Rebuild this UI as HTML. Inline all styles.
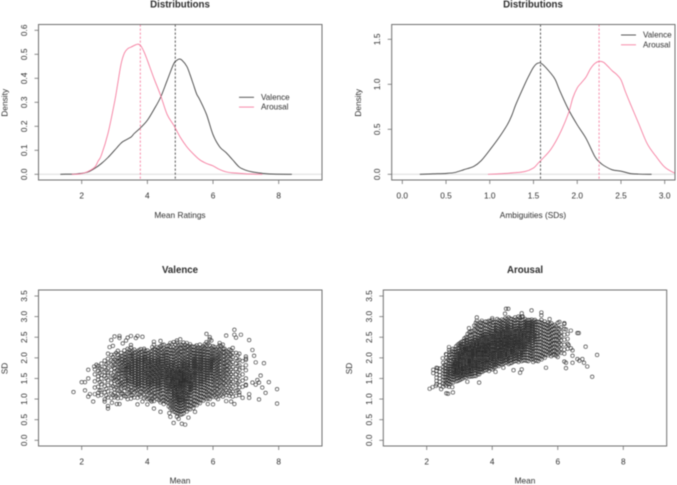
<!DOCTYPE html>
<html lang="en">
<head>
<meta charset="utf-8">
<title>Distributions and mean-SD scatter plots</title>
<style>
html,body{margin:0;padding:0;background:#fff;width:677px;height:485px;overflow:hidden}
svg{display:block;filter:blur(0.4px)}
text{font-family:"Liberation Sans",Arial,sans-serif;fill:#2e2e2e}
</style>
</head>
<body>
<svg id="figure" xmlns="http://www.w3.org/2000/svg" width="677" height="485" viewBox="0 0 677 485"></svg>
<script>
/* ---------- density panel data ---------- */
const ratingX_valence = [1.35,1.6,1.8,2.0,2.2,2.4,2.6,2.8,3.0,3.2,3.3,3.5,3.6,3.8,4.0,4.2,4.4,4.6,4.8,4.9,4.97,5.05,5.2,5.3,5.4,5.5,5.6,5.8,6.0,6.2,6.4,6.6,6.8,7.0,7.2,7.5,7.8,8.4];
const ratingY_valence = [0,0.0005,0.001,0.004,0.01,0.025,0.045,0.07,0.1,0.13,0.14,0.155,0.17,0.195,0.225,0.27,0.32,0.39,0.46,0.475,0.48,0.476,0.45,0.415,0.375,0.335,0.31,0.25,0.165,0.115,0.09,0.06,0.03,0.017,0.01,0.004,0.001,0];
const ratingX_arousal = [1.7,1.9,2.0,2.2,2.4,2.5,2.6,2.8,3.0,3.1,3.2,3.3,3.4,3.5,3.7,3.8,3.9,4.0,4.2,4.4,4.6,4.8,5.0,5.2,5.4,5.6,5.8,6.0,6.2,6.4,6.6,7.0,7.5];
const ratingY_arousal = [0,0.001,0.003,0.012,0.03,0.055,0.08,0.17,0.3,0.38,0.46,0.505,0.523,0.53,0.542,0.535,0.51,0.475,0.4,0.33,0.25,0.205,0.155,0.115,0.085,0.06,0.045,0.035,0.02,0.01,0.006,0.002,0];
const ambigX_valence = [0.2,0.35,0.5,0.6,0.7,0.82,0.9,1.0,1.1,1.2,1.25,1.3,1.4,1.45,1.5,1.55,1.6,1.7,1.75,1.8,1.9,2.0,2.1,2.2,2.25,2.3,2.4,2.5,2.6,2.7,2.85];
const ambigY_valence = [0,0.005,0.01,0.02,0.05,0.09,0.15,0.27,0.4,0.55,0.65,0.78,1.0,1.1,1.19,1.235,1.225,1.12,1.05,0.93,0.72,0.55,0.4,0.2,0.14,0.1,0.05,0.035,0.01,0.002,0];
const ambigX_arousal = [0.98,1.1,1.25,1.4,1.5,1.55,1.6,1.7,1.8,1.9,1.95,2.0,2.05,2.1,2.15,2.2,2.25,2.3,2.35,2.4,2.45,2.5,2.55,2.6,2.7,2.8,2.9,3.0,3.1,3.15];
const ambigY_arousal = [0,0.005,0.015,0.03,0.07,0.12,0.17,0.28,0.45,0.68,0.85,0.96,1.02,1.08,1.17,1.23,1.255,1.245,1.2,1.15,1.11,1.05,0.92,0.8,0.57,0.34,0.2,0.08,0.02,0.007];
const ratingMeans = [4.85,3.785];
const ambigMeans = [1.58,2.25];

/* ---------- tick labels ---------- */
const meanTicks = [2,4,6,8];
const ratingDensityTicks = ["0.0","0.1","0.2","0.3","0.4","0.5","0.6"];
const ambigTicks = ["0.0","0.5","1.0","1.5","2.0","2.5","3.0"];
const ambigDensityTicks = ["0.0","0.5","1.0","1.5"];
const sdTicks = ["0.0","0.5","1.0","1.5","2.0","2.5","3.0","3.5"];
const legendLabels = ["Valence","Arousal"];

/* ---------- valence scatter: isolated points ---------- */
const valenceEdgeMean = [1.75,2.0,2.1,2.1,2.2,2.2,2.2,2.25,2.35,2.38,2.45,2.8,2.85,2.9,2.95,3.0,3.15,3.15,3.25,3.35,3.4,3.5,3.65,3.7,3.85,3.5,2.8,2.8,2.92,3.07,3.15,2.7,3.7,3.85,4.0,4.13,4.2,4.4,4.67,4.7,4.8,4.9,4.95,5.05,5.15,5.25,5.45,5.84,6.0,6.15,6.4,6.55,6.65,5.8,5.9,5.95,6.4,6.65,6.65,6.7,6.85,7.1,7.2,7.25,7.3,7.55,7.0,7.0,7.7,7.45,7.35,7.4,7.5,7.6,7.4,7.95,7.95,7.3,7.2,7.1,7.1,6.9,6.8,6.7,7.0];
const valenceEdgeSD = [1.17,1.41,1.41,1.21,1.71,1.5,1.06,1.12,0.94,1.79,1.83,2.1,2.26,2.43,2.29,2.52,2.53,2.48,2.35,2.42,2.49,2.53,2.48,2.53,2.51,2.31,0.83,0.77,0.91,0.88,0.88,0.94,0.87,0.94,0.87,0.94,0.77,0.69,0.66,0.57,0.42,0.57,0.52,0.4,0.38,0.55,0.69,0.88,0.87,1.0,0.95,0.94,0.88,2.58,2.5,2.42,2.54,2.68,2.56,2.49,2.56,2.43,2.19,2.05,1.89,1.87,2.03,1.98,1.41,1.57,1.46,1.4,1.28,1.15,0.99,1.24,0.89,1.35,1.4,1.12,1.03,1.03,1.16,1.08,1.35];

/* ---------- valence scatter: dense body, one SD list per mean rating ---------- */
const valenceCoreMean = [2.4,2.5,2.6,2.7,2.8,2.9,3.0,3.1,3.2,3.3,3.4,3.5,3.6,3.7,3.8,3.9,4.0,4.1,4.2,4.3,4.4,4.5,4.6,4.7,4.8,4.9,5.0,5.1,5.2,5.3,5.4,5.5,5.6,5.7,5.8,5.9,6.0,6.1,6.2,6.3,6.4,6.5,6.6,6.7,6.8,6.9,7.0];
const valenceCoreSD = [
[1.12,1.28,1.43,1.6,1.72],
[1.08,1.15,1.3,1.47,1.55,1.68,1.8],
[1.1,1.22,1.36,1.5,1.59,1.72,1.86],
[0.99,1.16,1.31,1.42,1.56,1.66,1.78,1.93],
[1.04,1.19,1.34,1.46,1.58,1.63,1.74,1.87,1.98],
[1.02,1.13,1.27,1.39,1.5,1.62,1.71,1.83,1.94,2.07],
[1.04,1.15,1.24,1.36,1.44,1.53,1.66,1.75,1.84,1.96,2.08],
[1.02,1.12,1.22,1.33,1.41,1.52,1.6,1.71,1.79,1.9,1.99,2.07,2.17],
[1.03,1.14,1.25,1.3,1.38,1.47,1.56,1.64,1.72,1.8,1.88,1.97,2.05,2.12],
[1.08,1.19,1.28,1.36,1.43,1.5,1.58,1.65,1.72,1.79,1.86,1.93,2.0,2.08,2.18],
[1.0,1.12,1.24,1.32,1.39,1.46,1.52,1.59,1.65,1.72,1.78,1.84,1.91,1.98,2.06,2.14,2.22],
[1.01,1.1,1.2,1.29,1.35,1.42,1.48,1.55,1.61,1.67,1.73,1.79,1.85,1.92,1.99,2.05,2.14,2.25],
[1.04,1.16,1.26,1.33,1.39,1.45,1.51,1.57,1.63,1.69,1.75,1.81,1.87,1.93,1.99,2.06,2.12,2.2],
[1.03,1.13,1.22,1.3,1.36,1.42,1.48,1.54,1.6,1.66,1.72,1.78,1.84,1.9,1.96,2.02,2.09,2.16],
[1.06,1.18,1.27,1.34,1.4,1.46,1.52,1.58,1.64,1.7,1.76,1.82,1.88,1.94,2.0,2.07,2.14,2.21],
[1.02,1.12,1.22,1.31,1.38,1.44,1.5,1.56,1.62,1.67,1.73,1.79,1.85,1.91,1.97,2.03,2.1,2.18,2.22],
[1.0,1.1,1.2,1.28,1.35,1.41,1.47,1.53,1.58,1.64,1.7,1.75,1.81,1.87,1.92,1.98,2.04,2.11,2.18],
[0.97,1.08,1.18,1.26,1.33,1.39,1.45,1.5,1.56,1.61,1.67,1.72,1.78,1.83,1.89,1.95,2.01,2.08,2.15],
[0.95,1.05,1.15,1.23,1.3,1.37,1.43,1.49,1.54,1.6,1.65,1.71,1.76,1.82,1.87,1.93,1.99,2.06,2.13,2.21,2.32,2.39],
[1.0,1.1,1.18,1.26,1.33,1.39,1.45,1.51,1.56,1.62,1.67,1.73,1.78,1.84,1.9,1.96,2.03,2.1,2.17,2.26],
[0.92,1.02,1.12,1.2,1.27,1.34,1.4,1.46,1.52,1.57,1.63,1.68,1.74,1.79,1.85,1.91,1.97,2.04,2.11,2.19,2.28,2.41],
[0.88,0.97,1.06,1.14,1.22,1.29,1.35,1.41,1.47,1.52,1.58,1.63,1.69,1.74,1.8,1.85,1.91,1.97,2.03,2.09,2.16,2.24,2.32],
[0.92,1.0,1.09,1.17,1.24,1.31,1.37,1.43,1.49,1.54,1.6,1.65,1.71,1.76,1.82,1.88,1.94,2.0,2.07,2.14,2.22,2.28],
[0.78,0.86,0.94,1.02,1.1,1.17,1.24,1.3,1.36,1.42,1.47,1.52,1.57,1.62,1.67,1.72,1.78,1.84,1.9,1.96,2.03,2.1,2.18,2.26,2.36],
[0.7,0.78,0.86,0.93,1.0,1.07,1.13,1.19,1.25,1.31,1.36,1.41,1.46,1.5,1.54,1.59,1.64,1.69,1.75,1.81,1.87,1.94,2.01,2.09,2.17,2.26,2.38],
[0.66,0.73,0.8,0.87,0.94,1.0,1.06,1.12,1.18,1.24,1.29,1.34,1.38,1.42,1.46,1.5,1.54,1.58,1.62,1.67,1.72,1.78,1.85,1.92,1.99,2.07,2.16,2.25,2.37,2.42],
[0.62,0.7,0.76,0.83,0.89,0.95,1.0,1.06,1.11,1.17,1.22,1.27,1.31,1.36,1.4,1.44,1.48,1.52,1.56,1.6,1.64,1.69,1.74,1.8,1.86,1.93,2.0,2.08,2.15,2.24,2.33,2.45],
[0.65,0.72,0.79,0.86,0.93,0.99,1.05,1.11,1.17,1.23,1.28,1.33,1.37,1.41,1.45,1.49,1.53,1.57,1.61,1.65,1.7,1.75,1.81,1.87,1.94,2.01,2.09,2.17,2.26,2.37],
[0.7,0.78,0.86,0.93,1.0,1.07,1.13,1.19,1.25,1.31,1.36,1.41,1.46,1.5,1.55,1.6,1.65,1.7,1.76,1.82,1.88,1.95,2.02,2.1,2.18,2.27,2.36],
[0.75,0.84,0.92,1.0,1.08,1.15,1.21,1.27,1.33,1.38,1.44,1.49,1.54,1.59,1.64,1.7,1.75,1.81,1.87,1.94,2.01,2.08,2.16,2.24,2.33],
[0.78,0.88,0.97,1.05,1.13,1.2,1.27,1.33,1.39,1.45,1.5,1.56,1.61,1.67,1.72,1.78,1.84,1.9,1.96,2.03,2.1,2.18,2.26],
[0.85,0.94,1.03,1.11,1.19,1.26,1.32,1.38,1.44,1.5,1.56,1.61,1.67,1.72,1.78,1.84,1.9,1.96,2.02,2.09,2.16,2.23,2.3],
[0.9,0.99,1.07,1.15,1.22,1.29,1.36,1.42,1.48,1.54,1.6,1.66,1.71,1.77,1.83,1.89,1.95,2.01,2.08,2.15,2.22,2.32],
[0.96,1.05,1.13,1.21,1.28,1.35,1.41,1.47,1.53,1.59,1.65,1.7,1.76,1.82,1.88,1.94,2.0,2.07,2.14,2.21,2.28],
[1.0,1.09,1.17,1.25,1.32,1.39,1.45,1.51,1.57,1.63,1.69,1.75,1.81,1.87,1.93,1.99,2.06,2.13,2.2,2.3,2.38],
[1.0,1.1,1.2,1.28,1.36,1.43,1.5,1.56,1.62,1.68,1.74,1.8,1.86,1.92,1.98,2.05,2.12,2.2,2.3,2.45],
[1.05,1.15,1.25,1.33,1.41,1.48,1.55,1.62,1.68,1.74,1.8,1.86,1.92,1.98,2.05,2.12,2.2,2.28],
[1.04,1.14,1.24,1.33,1.41,1.49,1.56,1.63,1.7,1.77,1.84,1.91,1.98,2.05,2.13,2.21],
[1.08,1.2,1.3,1.39,1.47,1.55,1.62,1.69,1.76,1.83,1.9,1.97,2.04,2.12,2.2,2.3,2.36],
[1.06,1.18,1.29,1.39,1.48,1.56,1.64,1.72,1.8,1.88,1.96,2.04,2.13,2.22,2.32],
[1.1,1.22,1.34,1.44,1.54,1.63,1.72,1.81,1.9,1.99,2.08,2.17],
[1.08,1.2,1.32,1.43,1.54,1.65,1.76,1.87,1.98,2.09,2.2],
[1.06,1.18,1.3,1.42,1.54,1.66,1.78,1.9,2.02,2.12,2.24],
[1.2,1.34,1.47,1.6,1.73,1.86,1.99,2.12],
[1.1,1.28,1.42,1.56,1.7,1.82,1.95,2.1],
[1.3,1.45,1.6,1.76,1.92],
[1.33,1.5,1.7,1.82,1.95]
];
const valenceFillMean = [2.55,2.75,2.95,3.05,3.15,3.25,3.35,3.45,3.55,3.65,3.75,3.85,3.95,4.05,4.15,4.25,4.35,4.45,4.55,4.65,4.75,4.85,4.95,5.05,5.15,5.25,5.35,5.45,5.55,5.65,5.75,5.85,5.95,6.05,6.15,6.25,6.35,6.45,6.55,6.75];
const valenceFillSD = [
[1.21,1.41,1.63,1.75],
[1.09,1.25,1.51,1.7,1.84],
[1.1,1.31,1.49,1.58,1.8,1.91,2.02],
[1.07,1.28,1.47,1.56,1.69,1.83,1.94,2.12],
[1.19,1.35,1.43,1.52,1.61,1.68,1.76,1.85,1.93,2.01],
[1.13,1.33,1.41,1.54,1.62,1.69,1.76,1.83,1.9,1.96,2.04],
[1.06,1.28,1.36,1.43,1.49,1.55,1.62,1.69,1.75,1.81,1.88,1.95,2.02,2.1],
[1.15,1.24,1.37,1.44,1.5,1.58,1.64,1.7,1.76,1.82,1.88,1.95,2.03,2.11,2.19],
[1.09,1.22,1.36,1.42,1.48,1.54,1.6,1.66,1.72,1.78,1.84,1.9,1.96,2.03,2.09,2.17],
[1.19,1.27,1.33,1.39,1.45,1.51,1.57,1.63,1.69,1.75,1.81,1.87,1.93,1.99,2.06,2.13],
[1.1,1.24,1.31,1.37,1.43,1.49,1.55,1.61,1.67,1.73,1.79,1.85,1.91,1.97,2.03,2.11,2.19],
[1.16,1.26,1.33,1.4,1.46,1.52,1.58,1.64,1.7,1.76,1.82,1.88,1.94,2.0,2.07,2.15],
[1.05,1.17,1.25,1.32,1.38,1.44,1.5,1.55,1.61,1.67,1.72,1.78,1.84,1.9,1.95,2.01,2.08,2.16],
[1.02,1.14,1.23,1.3,1.36,1.42,1.48,1.53,1.59,1.64,1.7,1.75,1.81,1.86,1.92,1.98,2.05,2.12],
[1.0,1.1,1.2,1.28,1.35,1.4,1.46,1.52,1.57,1.63,1.68,1.74,1.79,1.85,1.9,1.96,2.02,2.09,2.17,2.26],
[1.06,1.15,1.23,1.3,1.36,1.42,1.48,1.54,1.59,1.65,1.7,1.76,1.81,1.87,1.93,1.99,2.06,2.13,2.2],
[0.97,1.07,1.17,1.24,1.31,1.37,1.43,1.49,1.55,1.6,1.66,1.71,1.77,1.82,1.88,1.94,2.0,2.07,2.15,2.24],
[0.95,1.04,1.14,1.22,1.29,1.35,1.41,1.47,1.53,1.58,1.64,1.69,1.75,1.8,1.86,1.92,1.98,2.05,2.13,2.21,2.31],
[0.94,1.03,1.12,1.19,1.26,1.33,1.39,1.45,1.5,1.55,1.61,1.66,1.71,1.77,1.82,1.87,1.93,1.99,2.06,2.12,2.2],
[0.82,0.9,0.98,1.05,1.13,1.2,1.27,1.33,1.39,1.44,1.5,1.55,1.6,1.65,1.7,1.75,1.81,1.87,1.92,1.99,2.05,2.12,2.2,2.3],
[0.74,0.82,0.9,0.97,1.04,1.1,1.16,1.22,1.28,1.33,1.38,1.43,1.48,1.52,1.56,1.61,1.66,1.71,1.77,1.83,1.89,1.96,2.03,2.12,2.2,2.33],
[0.68,0.75,0.82,0.89,0.96,1.03,1.09,1.15,1.2,1.26,1.3,1.35,1.39,1.43,1.47,1.51,1.55,1.59,1.63,1.68,1.73,1.79,1.84,1.9,1.97,2.04,2.12,2.22,2.32],
[0.65,0.71,0.78,0.85,0.91,0.97,1.03,1.09,1.14,1.19,1.24,1.29,1.33,1.38,1.42,1.45,1.49,1.53,1.57,1.61,1.65,1.7,1.75,1.81,1.88,1.95,2.03,2.11,2.2,2.3],
[0.63,0.71,0.78,0.84,0.91,0.97,1.03,1.09,1.14,1.2,1.25,1.3,1.34,1.38,1.43,1.47,1.51,1.55,1.59,1.63,1.67,1.72,1.78,1.84,1.9,1.97,2.05,2.14,2.22,2.31],
[0.74,0.82,0.89,0.96,1.02,1.09,1.15,1.21,1.27,1.33,1.38,1.43,1.47,1.52,1.57,1.62,1.67,1.73,1.79,1.85,1.91,1.98,2.06,2.14,2.23,2.32],
[0.76,0.86,0.95,1.03,1.1,1.17,1.24,1.3,1.36,1.42,1.47,1.52,1.57,1.62,1.67,1.73,1.78,1.84,1.9,1.97,2.04,2.12,2.2,2.29],
[0.82,0.92,1.01,1.09,1.17,1.24,1.3,1.36,1.42,1.47,1.53,1.58,1.64,1.69,1.75,1.81,1.87,1.93,1.99,2.06,2.13,2.2,2.28],
[0.87,0.96,1.05,1.13,1.21,1.28,1.34,1.4,1.46,1.52,1.58,1.63,1.69,1.75,1.81,1.87,1.93,1.99,2.05,2.12,2.19,2.27],
[0.92,1.01,1.1,1.18,1.25,1.32,1.38,1.44,1.5,1.56,1.62,1.68,1.74,1.8,1.85,1.91,1.97,2.04,2.11,2.18,2.26],
[0.98,1.07,1.15,1.23,1.3,1.37,1.43,1.49,1.55,1.61,1.67,1.73,1.79,1.85,1.91,1.97,2.03,2.1,2.17,2.25],
[1.03,1.12,1.2,1.27,1.34,1.41,1.47,1.53,1.59,1.65,1.71,1.77,1.83,1.89,1.95,2.02,2.09,2.16,2.24,2.33],
[1.02,1.12,1.22,1.3,1.38,1.45,1.52,1.58,1.64,1.7,1.76,1.82,1.88,1.94,2.0,2.07,2.14,2.22,2.34],
[1.07,1.17,1.27,1.35,1.43,1.5,1.57,1.64,1.71,1.77,1.83,1.89,1.95,2.02,2.09,2.16,2.24],
[1.09,1.19,1.28,1.37,1.45,1.52,1.6,1.67,1.74,1.81,1.88,1.95,2.01,2.09,2.17,2.26],
[1.12,1.24,1.34,1.43,1.51,1.59,1.66,1.73,1.8,1.87,1.94,2.01,2.08,2.16,2.26],
[1.1,1.22,1.33,1.43,1.52,1.6,1.68,1.76,1.84,1.92,2.0,2.08,2.17,2.28],
[1.14,1.26,1.38,1.49,1.59,1.68,1.77,1.86,1.95,2.04,2.13,2.22],
[1.16,1.28,1.4,1.51,1.61,1.71,1.81,1.92,2.03,2.14],
[1.13,1.25,1.37,1.48,1.6,1.72,1.84,1.96,2.07,2.18],
[1.22,1.38,1.52,1.66,1.8,1.93,2.06]
];

/* ---------- arousal scatter: isolated points ---------- */
const arousalEdgeMean = [2.09,2.18,2.28,2.44,2.6,2.65,2.8,2.78,2.68,3.24,3.6,4.1,4.34,4.65,4.85,4.9,5.64,6.25,6.45,7.05,6.9,6.8,6.75,6.66,6.6,7.2,6.85,6.6,6.64,6.4,6.25,6.2,6.05,5.75,5.5,5.5,5.2,4.9,4.93,4.42,4.49,4.39,4.0,3.53,3.53,3.68,3.29,2.68,2.68,2.59,2.49,2.33,2.2,2.2,6.2,6.25,6.45,6.45,6.4,6.33];
const arousalEdgeSD = [1.25,1.29,1.32,1.24,1.14,1.13,1.16,1.29,1.3,1.42,1.4,1.66,1.76,1.7,1.64,1.72,1.76,1.75,1.88,1.54,1.79,1.88,1.97,1.93,1.97,2.07,2.27,2.6,2.6,2.66,2.69,2.84,2.87,2.94,3.1,3.03,3.15,3.08,3.0,3.19,3.19,3.07,2.96,2.98,2.9,2.9,2.72,2.26,2.19,2.09,1.99,1.75,1.71,1.63,1.91,1.88,2.05,2.18,2.23,2.31];

/* ---------- arousal scatter: dense body, one SD list per mean rating ---------- */
const arousalCoreMean = [2.3,2.4,2.5,2.6,2.7,2.8,2.9,3.0,3.1,3.2,3.3,3.4,3.5,3.6,3.7,3.8,3.9,4.0,4.1,4.2,4.3,4.4,4.5,4.6,4.7,4.8,4.9,5.0,5.1,5.2,5.3,5.4,5.5,5.6,5.7,5.8,5.9,6.0,6.1,6.2,6.3];
const arousalCoreSD = [
[1.36,1.44,1.52,1.6,1.69,1.76],
[1.33,1.42,1.5,1.58,1.66,1.74],
[1.3,1.38,1.46,1.54,1.62,1.7,1.78,1.88],
[1.32,1.4,1.47,1.54,1.61,1.68,1.75,1.82,1.9,2.0,2.08],
[1.36,1.43,1.5,1.56,1.62,1.68,1.74,1.8,1.86,1.93,2.0,2.07,2.14],
[1.4,1.47,1.53,1.59,1.64,1.7,1.75,1.8,1.85,1.9,1.96,2.02,2.08,2.15,2.22],
[1.43,1.5,1.56,1.61,1.66,1.71,1.76,1.8,1.85,1.89,1.94,1.99,2.04,2.09,2.15,2.21,2.28],
[1.46,1.52,1.58,1.63,1.68,1.72,1.77,1.81,1.85,1.9,1.94,1.98,2.03,2.07,2.12,2.17,2.23,2.29,2.35],
[1.5,1.56,1.61,1.66,1.71,1.75,1.8,1.84,1.88,1.92,1.96,2.01,2.05,2.09,2.14,2.18,2.23,2.28,2.34,2.4],
[1.52,1.58,1.64,1.69,1.74,1.78,1.83,1.87,1.91,1.95,1.99,2.04,2.08,2.12,2.16,2.21,2.26,2.31,2.37,2.43,2.5],
[1.54,1.6,1.66,1.71,1.76,1.8,1.85,1.89,1.93,1.98,2.02,2.06,2.1,2.14,2.19,2.23,2.28,2.33,2.39,2.45,2.53,2.62],
[1.55,1.61,1.67,1.73,1.78,1.83,1.88,1.92,1.96,2.01,2.05,2.09,2.13,2.17,2.22,2.26,2.31,2.36,2.41,2.47,2.55,2.65],
[1.56,1.63,1.69,1.75,1.8,1.85,1.9,1.95,1.99,2.03,2.08,2.12,2.16,2.2,2.25,2.29,2.34,2.39,2.44,2.5,2.57,2.66,2.76,2.85],
[1.6,1.66,1.72,1.78,1.83,1.88,1.93,1.98,2.02,2.07,2.11,2.15,2.2,2.24,2.28,2.33,2.38,2.43,2.48,2.54,2.61,2.69,2.79],
[1.66,1.72,1.78,1.84,1.89,1.94,1.99,2.03,2.08,2.12,2.17,2.21,2.25,2.3,2.34,2.39,2.44,2.49,2.55,2.61,2.68,2.76,2.84],
[1.7,1.76,1.82,1.88,1.93,1.98,2.02,2.07,2.11,2.16,2.2,2.25,2.29,2.33,2.38,2.43,2.48,2.53,2.58,2.64,2.71,2.79,2.88],
[1.68,1.75,1.82,1.88,1.94,2.0,2.05,2.1,2.15,2.19,2.24,2.28,2.32,2.37,2.41,2.46,2.51,2.56,2.62,2.68,2.75,2.83,2.9],
[1.72,1.79,1.85,1.91,1.97,2.02,2.07,2.12,2.17,2.21,2.26,2.3,2.35,2.39,2.44,2.49,2.54,2.59,2.65,2.71,2.78,2.85,2.92],
[1.78,1.84,1.9,1.96,2.01,2.06,2.11,2.16,2.2,2.25,2.29,2.34,2.38,2.43,2.47,2.52,2.57,2.62,2.68,2.74,2.8,2.87],
[1.8,1.86,1.92,1.98,2.03,2.08,2.13,2.18,2.23,2.27,2.32,2.36,2.41,2.45,2.5,2.55,2.6,2.65,2.71,2.77,2.84,2.91],
[1.84,1.9,1.96,2.01,2.06,2.11,2.16,2.2,2.25,2.29,2.34,2.38,2.43,2.47,2.52,2.57,2.62,2.67,2.73,2.79,2.86,2.93],
[1.88,1.94,2.0,2.05,2.1,2.15,2.19,2.24,2.28,2.33,2.37,2.42,2.46,2.51,2.55,2.6,2.65,2.7,2.76,2.82,2.89,2.96],
[1.85,1.92,1.98,2.04,2.09,2.14,2.19,2.23,2.28,2.32,2.37,2.41,2.46,2.5,2.55,2.6,2.65,2.7,2.76,2.83,2.9,2.98],
[1.88,1.95,2.01,2.07,2.12,2.17,2.22,2.26,2.31,2.35,2.4,2.44,2.49,2.53,2.58,2.63,2.68,2.74,2.8,2.87,2.94],
[1.92,1.98,2.04,2.1,2.15,2.2,2.25,2.29,2.34,2.38,2.43,2.47,2.52,2.56,2.61,2.66,2.71,2.77,2.83,2.9,2.98],
[1.9,1.97,2.03,2.09,2.15,2.2,2.25,2.3,2.35,2.39,2.44,2.48,2.53,2.58,2.63,2.68,2.73,2.79,2.85,2.92,3.0],
[1.92,1.99,2.05,2.11,2.17,2.22,2.27,2.32,2.37,2.42,2.47,2.52,2.57,2.62,2.67,2.72,2.78,2.84,2.91,3.0],
[1.94,2.01,2.07,2.13,2.19,2.24,2.29,2.34,2.39,2.44,2.49,2.54,2.59,2.64,2.69,2.75,2.81,2.87,2.94],
[1.92,2.0,2.07,2.14,2.2,2.26,2.32,2.37,2.42,2.47,2.52,2.57,2.62,2.68,2.74,2.8,2.86,2.92],
[1.96,2.03,2.1,2.17,2.23,2.29,2.35,2.41,2.46,2.52,2.57,2.63,2.69,2.75,2.81,2.87,2.93],
[1.94,2.02,2.1,2.17,2.24,2.31,2.38,2.44,2.5,2.56,2.62,2.68,2.74,2.8,2.86,2.92],
[1.92,2.0,2.08,2.16,2.24,2.31,2.38,2.45,2.52,2.59,2.66,2.73,2.8,2.87],
[1.96,2.05,2.14,2.22,2.3,2.38,2.46,2.54,2.62,2.7,2.78,2.85,2.92],
[2.0,2.09,2.18,2.26,2.34,2.42,2.5,2.58,2.66,2.74,2.82,2.88],
[2.06,2.14,2.22,2.3,2.38,2.46,2.54,2.62,2.7,2.78,2.85],
[2.04,2.13,2.22,2.31,2.4,2.49,2.58,2.67,2.76,2.84],
[2.08,2.17,2.26,2.35,2.44,2.53,2.62,2.71,2.8],
[2.02,2.12,2.22,2.32,2.42,2.52,2.62,2.72,2.85],
[2.12,2.22,2.32,2.42,2.52,2.62,2.74],
[2.1,2.2,2.32,2.44,2.56,2.7,2.82],
[2.22,2.34,2.46,2.58]
];
const arousalFillMean = [2.55,2.65,2.75,2.85,2.95,3.05,3.15,3.25,3.35,3.45,3.55,3.65,3.75,3.85,3.95,4.05,4.15,4.25,4.35,4.45,4.55,4.65,4.75,4.85,4.95,5.05,5.15,5.25,5.35,5.45,5.55,5.65,5.75,5.85,5.95,6.05];
const arousalFillSD = [
[1.35,1.44,1.52,1.6,1.67,1.74,1.83],
[1.37,1.45,1.52,1.58,1.65,1.72,1.79,1.86,1.96],
[1.41,1.48,1.55,1.61,1.67,1.73,1.79,1.85,1.92,2.01,2.1],
[1.47,1.54,1.6,1.65,1.7,1.75,1.8,1.85,1.9,1.95,2.01,2.07,2.14,2.2],
[1.44,1.51,1.57,1.62,1.67,1.71,1.75,1.79,1.83,1.87,1.92,1.96,2.01,2.06,2.11,2.17,2.24,2.32],
[1.48,1.55,1.6,1.65,1.69,1.73,1.77,1.81,1.85,1.89,1.93,1.97,2.01,2.05,2.1,2.15,2.2,2.26,2.33,2.38],
[1.53,1.59,1.64,1.68,1.72,1.76,1.8,1.84,1.88,1.92,1.96,2.0,2.04,2.08,2.12,2.17,2.22,2.27,2.33,2.41,2.47],
[1.57,1.62,1.67,1.71,1.75,1.79,1.83,1.87,1.91,1.95,1.99,2.03,2.07,2.11,2.15,2.2,2.25,2.3,2.36,2.42,2.49,2.58],
[1.55,1.61,1.66,1.7,1.75,1.79,1.83,1.87,1.91,1.95,1.99,2.03,2.07,2.11,2.15,2.19,2.24,2.29,2.34,2.4,2.46,2.54,2.64],
[1.56,1.63,1.69,1.74,1.79,1.83,1.87,1.91,1.95,1.99,2.03,2.07,2.11,2.15,2.19,2.23,2.28,2.33,2.38,2.44,2.5,2.58,2.68,2.78],
[1.6,1.66,1.71,1.76,1.81,1.86,1.9,1.94,1.98,2.02,2.06,2.1,2.14,2.18,2.22,2.27,2.32,2.37,2.42,2.48,2.55,2.63,2.72,2.82],
[1.65,1.71,1.76,1.81,1.86,1.9,1.94,1.98,2.02,2.06,2.1,2.14,2.18,2.22,2.26,2.31,2.36,2.41,2.46,2.52,2.59,2.67,2.77,2.86],
[1.69,1.75,1.8,1.85,1.9,1.94,1.98,2.02,2.06,2.1,2.14,2.18,2.22,2.27,2.31,2.36,2.41,2.46,2.51,2.57,2.64,2.72,2.81],
[1.72,1.78,1.84,1.89,1.94,1.98,2.02,2.06,2.1,2.14,2.18,2.22,2.27,2.31,2.36,2.41,2.46,2.51,2.57,2.63,2.7,2.78,2.87],
[1.74,1.8,1.86,1.91,1.96,2.0,2.04,2.08,2.13,2.17,2.21,2.26,2.3,2.34,2.39,2.44,2.49,2.54,2.6,2.66,2.73,2.81,2.89],
[1.76,1.82,1.88,1.93,1.98,2.03,2.08,2.12,2.17,2.21,2.26,2.3,2.34,2.39,2.44,2.49,2.54,2.59,2.65,2.71,2.78,2.86],
[1.82,1.88,1.94,1.99,2.04,2.09,2.14,2.18,2.23,2.27,2.32,2.36,2.41,2.45,2.5,2.55,2.6,2.66,2.72,2.79,2.86,2.94],
[1.85,1.91,1.97,2.02,2.07,2.12,2.17,2.21,2.26,2.3,2.35,2.39,2.44,2.48,2.53,2.58,2.63,2.69,2.75,2.82,2.89],
[1.86,1.92,1.98,2.03,2.08,2.13,2.18,2.23,2.27,2.32,2.36,2.41,2.45,2.5,2.55,2.6,2.65,2.71,2.77,2.84,2.91],
[1.89,1.95,2.01,2.06,2.11,2.16,2.21,2.25,2.3,2.34,2.39,2.43,2.48,2.52,2.57,2.62,2.67,2.73,2.79,2.86,2.94],
[1.87,1.94,2.0,2.06,2.11,2.16,2.21,2.26,2.3,2.35,2.39,2.44,2.49,2.53,2.58,2.63,2.68,2.74,2.8,2.87,2.95],
[1.91,1.97,2.03,2.08,2.13,2.18,2.23,2.28,2.32,2.37,2.42,2.46,2.51,2.56,2.61,2.66,2.71,2.77,2.84,2.92],
[1.93,2.0,2.06,2.12,2.17,2.22,2.27,2.32,2.37,2.41,2.46,2.51,2.56,2.61,2.66,2.72,2.78,2.85,2.94],
[1.95,2.02,2.08,2.14,2.2,2.25,2.3,2.35,2.4,2.45,2.5,2.55,2.6,2.65,2.71,2.77,2.83,2.9,2.97],
[1.94,2.01,2.08,2.14,2.2,2.26,2.31,2.36,2.41,2.46,2.51,2.56,2.61,2.67,2.73,2.79,2.85,2.92],
[1.93,2.0,2.07,2.14,2.21,2.27,2.33,2.39,2.44,2.49,2.55,2.6,2.66,2.72,2.78,2.84,2.9],
[1.98,2.05,2.12,2.19,2.25,2.31,2.37,2.43,2.48,2.54,2.6,2.66,2.72,2.78,2.84,2.91],
[1.9,1.98,2.06,2.14,2.21,2.28,2.35,2.41,2.47,2.53,2.59,2.65,2.71,2.77,2.83,2.9],
[1.93,2.01,2.09,2.17,2.25,2.32,2.39,2.46,2.53,2.6,2.67,2.74,2.81,2.88],
[1.98,2.07,2.15,2.23,2.31,2.39,2.47,2.55,2.63,2.71,2.79,2.87],
[2.03,2.11,2.19,2.27,2.35,2.43,2.51,2.59,2.67,2.75,2.83],
[2.08,2.16,2.24,2.32,2.4,2.48,2.56,2.64,2.72,2.8],
[2.1,2.19,2.28,2.37,2.46,2.55,2.64,2.73,2.82],
[2.07,2.16,2.25,2.34,2.43,2.52,2.6,2.69,2.78],
[2.05,2.14,2.24,2.34,2.44,2.54,2.64,2.76],
[2.15,2.26,2.37,2.48,2.58,2.7]
];

const SVGNS = "http://www.w3.org/2000/svg";
const figure = document.getElementById("figure");
const BLACK = "#3a3a3a";
const PINK = "#f5769a";
const AXIS = "#707070";

function make(tag, parent, attrs, text) {
  const el = document.createElementNS(SVGNS, tag);
  for (const k in attrs) el.setAttribute(k, attrs[k]);
  if (text !== undefined) el.textContent = text;
  parent.appendChild(el);
  return el;
}

function linear(v0, p0, v1, p1) {
  return function (v) { return p0 + (v - v0) * (p1 - p0) / (v1 - v0); };
}

/* Smooth path through the read density values. */
function smoothPath(pts) {
  let d = "M" + pts[0][0].toFixed(2) + " " + pts[0][1].toFixed(2);
  for (let i = 0; i < pts.length - 1; i++) {
    const p0 = pts[Math.max(i - 1, 0)], p1 = pts[i], p2 = pts[i + 1], p3 = pts[Math.min(i + 2, pts.length - 1)];
    const c1x = p1[0] + (p2[0] - p0[0]) / 6, c1y = p1[1] + (p2[1] - p0[1]) / 6;
    const c2x = p2[0] - (p3[0] - p1[0]) / 6, c2y = p2[1] - (p3[1] - p1[1]) / 6;
    d += "C" + c1x.toFixed(2) + " " + c1y.toFixed(2) + " " + c2x.toFixed(2) + " " + c2y.toFixed(2) + " " + p2[0].toFixed(2) + " " + p2[1].toFixed(2);
  }
  return d;
}

function label(parent, name, str, x, y, size, weight, rotate) {
  const attrs = { x: x, y: y, "font-size": size, "text-anchor": "middle", "dominant-baseline": "central" };
  if (weight) attrs["font-weight"] = weight;
  if (rotate) attrs.transform = "rotate(-90 " + x + " " + y + ")";
  const t = make("text", parent, attrs, str);
  
  
  return t;
}

function buildPanel(cfg) {
  const g = make("g", figure, {});
  
  
  const sx = linear(cfg.xRef[0], cfg.xRef[1], cfg.xRef[2], cfg.xRef[3]);
  const sy = linear(cfg.yRef[0], cfg.yRef[1], cfg.yRef[2], cfg.yRef[3]);
  const clipId = cfg.name + "-clip";
  const defs = make("defs", g, {});
  const cp = make("clipPath", defs, { id: clipId });
  make("rect", cp, { x: cfg.left, y: cfg.top, width: cfg.right - cfg.left, height: cfg.bottom - cfg.top });

  label(g, "chart-title", cfg.title, cfg.titleX, cfg.titleY, 9.7, "bold");
  label(g, "x-axis-title", cfg.xTitle, cfg.titleX, cfg.xTitleY, 8.3);
  label(g, "y-axis-title", cfg.yTitle, cfg.yTitleX, (cfg.top + cfg.bottom) / 2 + 0.5, 8.3, null, true);

  cfg.xTicks.forEach(function (t) {
    const x = sx(parseFloat(t));
    const tick = make("line", g, { x1: x, x2: x, y1: cfg.bottom, y2: cfg.bottom + 4, stroke: AXIS, "stroke-width": 0.8 });
    
    
    label(g, "x-tick-label", String(t), x, cfg.bottom + 15.5, 8.3);
  });
  cfg.yTicks.forEach(function (t) {
    const y = sy(parseFloat(t));
    const tick = make("line", g, { x1: cfg.left - 4, x2: cfg.left, y1: y, y2: y, stroke: AXIS, "stroke-width": 0.8 });
    
    
    label(g, "y-tick-label", String(t), cfg.left - 14.5, y, 8.3, null, true);
  });

  const plot = make("g", g, { "clip-path": "url(#" + clipId + ")" });
  
  

  if (cfg.curves) {
    const base = make("line", plot, { x1: cfg.left, x2: cfg.right, y1: sy(0), y2: sy(0), stroke: "#dddddd", "stroke-width": 1 });
    
    
    cfg.curves.forEach(function (c) {
      const pts = c.xs.map(function (x, i) { return [sx(x), sy(c.ys[i])]; });
      const line = make("path", plot, { d: smoothPath(pts), fill: "none", stroke: c.color, "stroke-width": 0.85, "stroke-linejoin": "round" });
      
      
      const mean = make("line", plot, { x1: sx(c.mean), x2: sx(c.mean), y1: cfg.top, y2: cfg.bottom, stroke: c.color, "stroke-width": 0.85, "stroke-dasharray": "2.2 1.8" });
      
      
    });
    legendLabels.forEach(function (txt, i) {
      const y = cfg.legend.y + i * 9.8;
      const key = make("line", g, { x1: cfg.legend.x, x2: cfg.legend.x + 15, y1: y, y2: y, stroke: i === 0 ? BLACK : PINK, "stroke-width": 0.85 });
      
      
      const t = make("text", g, { x: cfg.legend.x + 22, y: y, "font-size": 8.1, "dominant-baseline": "central" }, txt);
      
      
    });
  }

  if (cfg.edgeMean) {
    const pts = make("g", plot, { fill: "none", stroke: "#2a2a2a", "stroke-width": 0.6 });
    
    
    function point(m, s) {
      const c = make("circle", pts, { cx: sx(m).toFixed(2), cy: sy(s).toFixed(2), r: 1.75 });
      
      
    }
    cfg.coreMean.forEach(function (m, i) {
      cfg.coreSD[i].forEach(function (s) { point(m, s); });
    });
    cfg.fillMean.forEach(function (m, i) {
      cfg.fillSD[i].forEach(function (s) { point(m, s); });
    });
    cfg.edgeMean.forEach(function (m, i) { point(m, cfg.edgeSD[i]); });
  }

  const box = make("rect", g, { x: cfg.left, y: cfg.top, width: cfg.right - cfg.left, height: cfg.bottom - cfg.top, fill: "none", stroke: AXIS, "stroke-width": 1 });
  
  
}

buildPanel({
  name: "rating-distribution-panel", title: "Distributions", xTitle: "Mean Ratings", yTitle: "Density",
  left: 38.5, right: 322, top: 24.5, bottom: 180,
  xRef: [2, 81.7, 8, 278.7], yRef: [0, 174.3, 0.6, 30.3],
  xTicks: meanTicks, yTicks: ratingDensityTicks,
  titleX: 180, titleY: 5, xTitleY: 215, yTitleX: 4.5,
  legend: { x: 239, y: 97.3 },
  curves: [
    { name: "valence", xs: ratingX_valence, ys: ratingY_valence, color: BLACK, mean: ratingMeans[0] },
    { name: "arousal", xs: ratingX_arousal, ys: ratingY_arousal, color: PINK, mean: ratingMeans[1] }
  ]
});
buildPanel({
  name: "ambiguity-distribution-panel", title: "Distributions", xTitle: "Ambiguities (SDs)", yTitle: "Density",
  left: 391.7, right: 675, top: 24.5, bottom: 180,
  xRef: [0, 402.3, 3, 664.7], yRef: [0, 174.3, 1.5, 39.3],
  xTicks: ambigTicks, yTicks: ambigDensityTicks,
  titleX: 533, titleY: 5, xTitleY: 215, yTitleX: 358,
  legend: { x: 621, y: 35 },
  curves: [
    { name: "valence", xs: ambigX_valence, ys: ambigY_valence, color: BLACK, mean: ambigMeans[0] },
    { name: "arousal", xs: ambigX_arousal, ys: ambigY_arousal, color: PINK, mean: ambigMeans[1] }
  ]
});
buildPanel({
  name: "valence-scatter-panel", title: "Valence", xTitle: "Mean", yTitle: "SD",
  left: 38.5, right: 322, top: 290, bottom: 446,
  xRef: [2, 81.7, 8, 278.7], yRef: [0, 440.3, 3.5, 296],
  xTicks: meanTicks, yTicks: sdTicks,
  titleX: 180, titleY: 270.7, xTitleY: 480.7, yTitleX: 4.5,
  edgeMean: valenceEdgeMean, edgeSD: valenceEdgeSD, coreMean: valenceCoreMean, coreSD: valenceCoreSD, fillMean: valenceFillMean, fillSD: valenceFillSD
});
buildPanel({
  name: "arousal-scatter-panel", title: "Arousal", xTitle: "Mean", yTitle: "SD",
  left: 383.3, right: 666.7, top: 290, bottom: 446,
  xRef: [2, 426.7, 8, 623.3], yRef: [0, 440.3, 3.5, 296],
  xTicks: meanTicks, yTicks: sdTicks,
  titleX: 525, titleY: 270.7, xTitleY: 480.7, yTitleX: 349,
  edgeMean: arousalEdgeMean, edgeSD: arousalEdgeSD, coreMean: arousalCoreMean, coreSD: arousalCoreSD, fillMean: arousalFillMean, fillSD: arousalFillSD
});
</script>
</body>
</html>
